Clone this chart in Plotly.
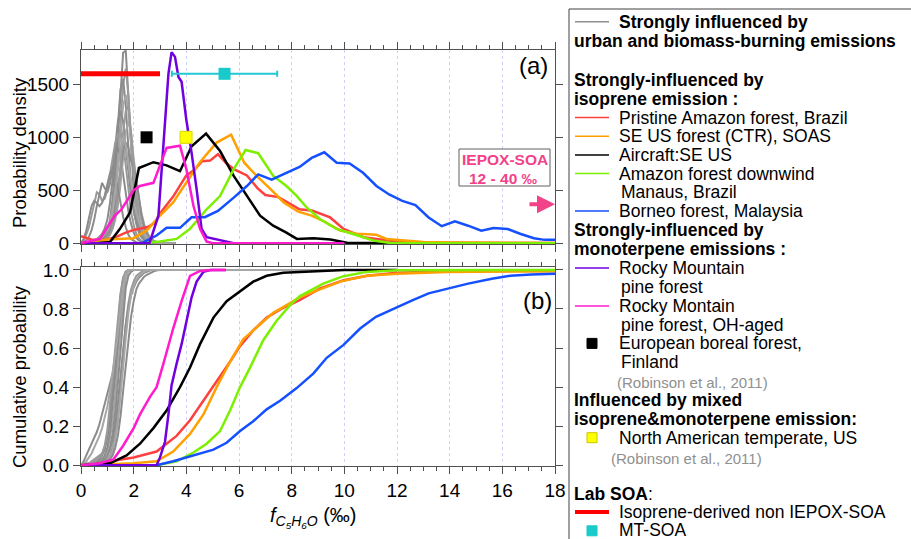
import plotly.graph_objects as go

FONT = "Liberation Sans, Arial, sans-serif"

# ---------------- panel (a): probability density ----------------
# urban / biomass-burning influenced sites, sampled every 0.1 permil
urban_x = [0.0, 0.1, 0.2, 0.3, 0.4, 0.5, 0.6, 0.7, 0.8, 0.9, 1.0, 1.1, 1.2, 1.3, 1.4, 1.5, 1.6, 1.7, 1.8,
           1.9, 2.0, 2.1, 2.2, 2.3, 2.4, 2.5, 2.6, 2.7, 2.8, 2.9, 3.0, 3.1, 3.2, 3.3, 3.4, 3.5, 3.6]
urban_pdf = [
    [0, 0, 0, 5, 10, 15, 20, 30, 40, 60, 100, 180, 320, 600, 1000, 1450, 1800, 1820, 1350, 850, 500, 280, 150, 80, 40, 20, 10, 5, 0, 0, 0, 0, 0, 0, 0, 0, 0],
    [0, 0, 0, 0, 5, 10, 15, 20, 30, 45, 70, 120, 220, 420, 750, 1150, 1500, 1650, 1400, 950, 600, 350, 200, 110, 60, 30, 15, 5, 0, 0, 0, 0, 0, 0, 0, 0, 0],
    [0, 0, 5, 10, 15, 20, 25, 30, 45, 70, 120, 220, 420, 750, 1150, 1450, 1550, 1300, 900, 550, 320, 180, 100, 55, 30, 15, 5, 0, 0, 0, 0, 0, 0, 0, 0, 0, 0],
    [0, 0, 0, 5, 10, 15, 20, 30, 40, 60, 90, 150, 260, 450, 750, 1050, 1300, 1400, 1250, 950, 700, 480, 320, 200, 120, 70, 40, 20, 10, 5, 0, 0, 0, 0, 0, 0, 0],
    [0, 0, 5, 10, 20, 30, 40, 60, 90, 140, 220, 380, 600, 900, 1150, 1250, 1150, 900, 650, 450, 300, 200, 130, 80, 50, 30, 15, 5, 0, 0, 0, 0, 0, 0, 0, 0, 0],
    [0, 30, 80, 150, 260, 380, 480, 460, 400, 420, 500, 650, 800, 950, 1030, 1050, 950, 750, 500, 300, 170, 90, 45, 20, 10, 5, 0, 0, 0, 0, 0, 0, 0, 0, 0, 0, 0],
    [0, 10, 30, 60, 120, 220, 350, 470, 570, 520, 480, 560, 720, 850, 900, 820, 650, 450, 300, 180, 100, 50, 25, 10, 5, 0, 0, 0, 0, 0, 0, 0, 0, 0, 0, 0, 0],
    [0, 0, 0, 0, 5, 10, 15, 20, 30, 40, 60, 90, 140, 220, 350, 550, 800, 1050, 1150, 1050, 800, 600, 420, 280, 180, 110, 60, 30, 15, 8, 3, 0, 0, 0, 0, 0, 0],
    [0, 0, 0, 5, 10, 15, 20, 30, 40, 55, 80, 120, 200, 330, 500, 700, 880, 950, 900, 780, 720, 600, 420, 260, 150, 90, 50, 30, 15, 8, 4, 2, 0, 0, 0, 0, 0],
    [0, 0, 0, 0, 0, 5, 10, 15, 20, 30, 50, 80, 140, 250, 450, 750, 1050, 1250, 1300, 1050, 700, 420, 230, 120, 60, 30, 15, 5, 0, 0, 0, 0, 0, 0, 0, 0, 0],
    [0, 40, 120, 250, 350, 400, 380, 350, 380, 450, 560, 660, 700, 640, 520, 380, 250, 150, 80, 40, 20, 8, 0, 0, 0, 0, 0, 0, 0, 0, 0, 0, 0, 0, 0, 0, 0],
    [0, 0, 0, 5, 10, 20, 30, 40, 60, 90, 130, 200, 320, 500, 720, 900, 1000, 920, 750, 560, 400, 290, 200, 140, 90, 55, 30, 15, 8, 3, 0, 0, 0, 0, 0, 0, 0],
]
urban_colors = ["#8c8c8c", "#9a9a9a", "#8c8c8c", "#a6a6a6", "#8c8c8c", "#9a9a9a",
                "#8c8c8c", "#a6a6a6", "#8c8c8c", "#9a9a9a", "#8c8c8c", "#a6a6a6"]

amazon_x = [0, 0.4, 0.9, 1.3, 1.7, 2.0, 2.5, 2.8, 3.0, 3.5, 4.0, 4.3, 4.6, 4.9, 5.2, 5.5, 5.8, 6.3, 6.7, 7.0,
            7.5, 8.0, 8.3, 8.8, 9.46, 9.97, 10.73, 11.36, 12, 13, 14, 16, 18]
amazon_pdf = [65, 35, 30, 55, 100, 125, 150, 190, 280, 440, 640, 690, 775, 780, 840, 760, 700, 640, 520, 455,
              435, 360, 320, 306, 243, 134, 56, 34, 15, 6, 3, 2, 1]

soas_x = [0, 0.5, 1.0, 1.5, 2.0, 2.5, 3.0, 3.5, 4.0, 4.5, 5.15, 5.7, 6.2, 6.67, 7.2, 7.7, 8.25, 8.76, 9.27,
          9.84, 10.47, 11.2, 11.6, 12.3, 13, 14, 15, 16, 18]
soas_pdf = [0, 10, 35, 40, 47, 120, 260, 385, 570, 760, 950, 1025, 760, 635, 510, 385, 297, 260, 200,
            120, 90, 80, 40, 25, 10, 6, 5, 3, 2]

aircraft_x = [0, 0.6, 1.1, 1.48, 1.86, 2.2, 2.75, 3.25, 3.76, 4.2, 4.75, 5.28, 5.8, 6.3, 6.8, 7.3, 7.8, 8.2,
              8.83, 9.47, 10.1, 12]
aircraft_pdf = [0, 0, 10, 135, 290, 710, 765, 735, 680, 915, 1035, 870, 635, 445, 260, 165, 100, 40,
                47, 34, 3, 0]

manaus_x = [0, 2.3, 3.0, 3.63, 4.14, 4.77, 5.28, 5.8, 6.25, 6.73, 7.3, 7.8, 8.19, 8.57, 9.07, 9.7, 10.33,
            11.1, 11.7, 12.5, 18]
manaus_pdf = [0, 0, 15, 40, 135, 320, 445, 700, 880, 850, 635, 540, 446, 337, 228, 134, 87, 25, 3, 0, 0]

borneo_x = [0, 2.3, 2.87, 3.25, 3.76, 4.2, 4.7, 5.2, 5.8, 6.3, 6.73, 7.24, 7.8, 8.3, 8.76, 9.24, 9.71, 10.2,
            10.71, 11.22, 11.7, 12.2, 12.7, 13.2, 13.7, 14.2, 14.7, 15.2, 15.67, 16.2, 16.7, 17.2, 17.6, 18]
borneo_pdf = [0, 0, 72, 145, 145, 245, 245, 305, 430, 540, 650, 600, 665, 720, 805, 859, 759, 753,
              665, 540, 460, 400, 360, 243, 160, 206, 165, 118, 143, 134, 87, 47, 31, 31]

rocky_x = [0, 2.6, 2.94, 3.19, 3.32, 3.44, 3.57, 3.7, 3.82, 4.0, 4.2, 4.39, 4.58, 4.77, 5.28, 5.53, 5.8, 6.5]
rocky_pdf = [0, 0, 260, 1135, 1600, 1805, 1760, 1570, 1525, 1165, 853, 510, 135, 56, 25, 10, 0, 0]

rocky_oh_x = [0, 0.72, 1.1, 1.29, 1.54, 2.0, 2.24, 2.75, 3.25, 3.76, 4.0, 4.27, 4.52, 4.77, 5.0, 10.0]
rocky_oh_pdf = [0, 40, 190, 260, 320, 500, 540, 570, 900, 920, 700, 353, 135, 15, 0, 0]

# single-value reference points (Robinson et al., 2011) and lab SOA
boreal_point = (2.49, 1000)
temperate_point = (3.99, 1000)
lab_iso_range = [0.0, 3.0]
lab_iso_level = 1600
mt_soa_center = 5.45
mt_soa_spread = 2.0
mt_soa_level = 1600
iepox_arrow_level = 368

# ---------------- panel (b): cumulative probability ----------------
urban_cdf_x = [0.0, 0.1, 0.2, 0.3, 0.4, 0.5, 0.6, 0.7, 0.8, 0.9, 1.0, 1.1, 1.2, 1.3, 1.4, 1.5, 1.6, 1.7,
               1.8, 1.9, 2.0, 2.1, 2.2, 2.3, 2.4, 2.5, 2.6, 2.7, 2.8, 2.9, 3.0, 12.0]
urban_cdf = [
    [0, 0.02, 0.05, 0.08, 0.11, 0.14, 0.17, 0.21, 0.26, 0.31, 0.37, 0.42, 0.47, 0.53, 0.6, 0.7, 0.85, 0.97, 1, 1, 1, 1, 1, 1, 1, 1, 1, 1, 1, 1, 1, 1],
    [0, 0, 0.01, 0.01, 0.02, 0.03, 0.04, 0.05, 0.06, 0.09, 0.15, 0.24, 0.36, 0.5, 0.65, 0.82, 0.95, 0.99, 1, 1, 1, 1, 1, 1, 1, 1, 1, 1, 1, 1, 1, 1],
    [0, 0, 0, 0, 0.01, 0.01, 0.02, 0.03, 0.05, 0.08, 0.14, 0.24, 0.38, 0.55, 0.72, 0.87, 0.96, 0.99, 1, 1, 1, 1, 1, 1, 1, 1, 1, 1, 1, 1, 1, 1],
    [0, 0, 0, 0, 0, 0.01, 0.01, 0.02, 0.03, 0.05, 0.08, 0.14, 0.23, 0.36, 0.52, 0.7, 0.86, 0.96, 0.99, 1, 1, 1, 1, 1, 1, 1, 1, 1, 1, 1, 1, 1],
    [0, 0, 0, 0, 0, 0, 0.01, 0.01, 0.02, 0.03, 0.05, 0.09, 0.16, 0.27, 0.42, 0.6, 0.78, 0.91, 0.97, 0.99, 1, 1, 1, 1, 1, 1, 1, 1, 1, 1, 1, 1],
    [0, 0, 0, 0, 0, 0, 0, 0.01, 0.01, 0.02, 0.03, 0.05, 0.09, 0.16, 0.27, 0.42, 0.58, 0.72, 0.83, 0.9, 0.94, 0.97, 0.98, 0.99, 1, 1, 1, 1, 1, 1, 1, 1],
    [0, 0, 0, 0, 0, 0, 0.01, 0.01, 0.02, 0.03, 0.05, 0.08, 0.13, 0.21, 0.32, 0.46, 0.6, 0.72, 0.81, 0.87, 0.91, 0.94, 0.96, 0.975, 0.985, 0.99, 0.995, 1, 1, 1, 1, 1],
    [0, 0, 0, 0, 0, 0, 0, 0, 0.01, 0.01, 0.02, 0.04, 0.07, 0.13, 0.22, 0.35, 0.5, 0.65, 0.78, 0.87, 0.92, 0.95, 0.97, 0.98, 0.99, 0.995, 1, 1, 1, 1, 1, 1],
    [0, 0, 0, 0, 0, 0.01, 0.01, 0.02, 0.03, 0.05, 0.09, 0.17, 0.3, 0.46, 0.63, 0.8, 0.93, 0.99, 1, 1, 1, 1, 1, 1, 1, 1, 1, 1, 1, 1, 1, 1],
    [0, 0, 0, 0.01, 0.01, 0.02, 0.03, 0.04, 0.06, 0.1, 0.18, 0.3, 0.45, 0.6, 0.75, 0.88, 0.96, 0.99, 1, 1, 1, 1, 1, 1, 1, 1, 1, 1, 1, 1, 1, 1],
    [0, 0, 0, 0, 0, 0, 0, 0, 0, 0.01, 0.02, 0.03, 0.05, 0.09, 0.15, 0.25, 0.38, 0.52, 0.65, 0.76, 0.84, 0.9, 0.93, 0.95, 0.965, 0.975, 0.983, 0.99, 0.995, 0.998, 1, 1],
    [0, 0.01, 0.02, 0.04, 0.06, 0.09, 0.12, 0.15, 0.19, 0.24, 0.3, 0.38, 0.47, 0.57, 0.68, 0.8, 0.91, 0.98, 1, 1, 1, 1, 1, 1, 1, 1, 1, 1, 1, 1, 1, 1],
]

amazon_cdf_x = [0, 0.5, 1.1, 2.0, 2.87, 3.63, 4.14, 4.65, 5.15, 5.66, 6.04, 6.54, 7.05, 7.6, 8.3, 9.08, 9.97,
                10.86, 12, 13.9, 18]
amazon_cdf = [0, 0.005, 0.02, 0.04, 0.07, 0.15, 0.23, 0.33, 0.43, 0.53, 0.61, 0.69, 0.756, 0.8, 0.845, 0.905,
              0.947, 0.97, 0.986, 0.993, 0.995]

soas_cdf_x = [0, 2.0, 2.87, 3.5, 4.14, 4.65, 5.15, 5.66, 6.16, 6.67, 7.3, 7.94, 8.3, 8.83, 9.84, 10.86, 12,
              13.9, 18]
soas_cdf = [0, 0.01, 0.02, 0.07, 0.16, 0.26, 0.40, 0.53, 0.645, 0.705, 0.78, 0.83, 0.86, 0.888, 0.94, 0.97,
            0.98, 0.99, 0.993]

aircraft_cdf_x = [0, 1.1, 1.73, 2.24, 2.75, 3.25, 3.76, 4.14, 4.52, 5.03, 5.53, 6.04, 6.54, 7.05, 7.68, 8.3,
                  9.0, 10.0, 12.0]
aircraft_cdf = [0, 0.01, 0.05, 0.11, 0.19, 0.28, 0.40, 0.50, 0.62, 0.756, 0.84, 0.89, 0.94, 0.97, 0.986,
                0.99, 0.995, 1.0, 1.0]

manaus_cdf_x = [0, 2.87, 3.63, 4.27, 4.77, 5.28, 5.66, 6.04, 6.42, 6.92, 7.43, 7.94, 8.3, 8.57, 9.2, 9.97,
                10.86, 12, 18]
manaus_cdf = [0, 0, 0.02, 0.065, 0.11, 0.175, 0.28, 0.40, 0.5, 0.64, 0.74, 0.82, 0.865, 0.885, 0.93, 0.968,
              0.99, 0.998, 1.0]

borneo_cdf_x = [0, 2.87, 3.5, 4.27, 5.03, 5.53, 6.04, 6.54, 7.05, 7.56, 8.19, 8.83, 9.33, 9.97, 10.6, 11.2,
                12, 12.6, 13.2, 13.9, 14.7, 15.6, 16.3, 17.1, 18]
borneo_cdf = [0, 0, 0.02, 0.05, 0.08, 0.115, 0.175, 0.225, 0.286, 0.33, 0.395, 0.47, 0.55, 0.616, 0.70,
              0.76, 0.81, 0.845, 0.88, 0.905, 0.93, 0.955, 0.97, 0.976, 0.98]

rocky_cdf_x = [0, 2.87, 3.0, 3.19, 3.32, 3.44, 3.63, 3.82, 4.01, 4.2, 4.39, 4.65, 4.9, 5.5]
rocky_cdf = [0, 0, 0.04, 0.12, 0.26, 0.41, 0.52, 0.62, 0.74, 0.86, 0.94, 0.99, 1.0, 1.0]

rocky_oh_cdf_x = [0, 0.72, 1.23, 1.6, 2.0, 2.24, 2.62, 2.87, 3.13, 3.5, 3.82, 4.14, 4.52, 5.0, 5.5]
rocky_oh_cdf = [0, 0.01, 0.03, 0.1, 0.19, 0.26, 0.35, 0.40, 0.52, 0.70, 0.84, 0.97, 0.995, 1.0, 1.0]

# ---------------- colours ----------------
C_AMAZON = "#ff4040"
C_SOAS = "#ffa000"
C_AIR = "#000000"
C_MANAUS = "#7cf000"
C_BORNEO = "#1450ff"
C_ROCKY = "#7000e0"
C_ROCKY_OH = "#ff1ccc"
C_LAB_ISO = "#ff0000"
C_MT = "#18caca"
C_IEPOX = "#f2428a"
C_AXIS = "#505050"

series = [
    (amazon_x, amazon_pdf, amazon_cdf_x, amazon_cdf, C_AMAZON),
    (soas_x, soas_pdf, soas_cdf_x, soas_cdf, C_SOAS),
    (aircraft_x, aircraft_pdf, aircraft_cdf_x, aircraft_cdf, C_AIR),
    (manaus_x, manaus_pdf, manaus_cdf_x, manaus_cdf, C_MANAUS),
    (borneo_x, borneo_pdf, borneo_cdf_x, borneo_cdf, C_BORNEO),
    (rocky_x, rocky_pdf, rocky_cdf_x, rocky_cdf, C_ROCKY),
    (rocky_oh_x, rocky_oh_pdf, rocky_oh_cdf_x, rocky_oh_cdf, C_ROCKY_OH),
]

fig = go.Figure()

# grey urban curves first so the forest sites sit on top
for ys, col in zip(urban_pdf, urban_colors):
    fig.add_trace(go.Scatter(x=urban_x, y=ys, mode="lines", line=dict(color=col, width=2),
                             xaxis="x2", yaxis="y2", hoverinfo="skip"))
for ys, col in zip(urban_cdf, urban_colors):
    fig.add_trace(go.Scatter(x=urban_cdf_x, y=ys, mode="lines", line=dict(color=col, width=2),
                             xaxis="x", yaxis="y", hoverinfo="skip"))

for px_, py_, cx_, cy_, col in series:
    fig.add_trace(go.Scatter(x=px_, y=py_, mode="lines", line=dict(color=col, width=2.5),
                             xaxis="x2", yaxis="y2"))
    fig.add_trace(go.Scatter(x=cx_, y=cy_, mode="lines", line=dict(color=col, width=2.5),
                             xaxis="x", yaxis="y"))

# lab SOA range and MT-SOA point
fig.add_trace(go.Scatter(x=lab_iso_range, y=[lab_iso_level, lab_iso_level], mode="lines",
                         line=dict(color=C_LAB_ISO, width=5), xaxis="x2", yaxis="y2"))
fig.add_trace(go.Scatter(x=[mt_soa_center], y=[mt_soa_level], mode="markers",
                         marker=dict(symbol="square", size=12, color=C_MT),
                         error_x=dict(type="data", array=[mt_soa_spread], arrayminus=[mt_soa_spread],
                                      color="#22c8d4", thickness=2, width=3),
                         xaxis="x2", yaxis="y2"))
# ambient single values
fig.add_trace(go.Scatter(x=[boreal_point[0]], y=[boreal_point[1]], mode="markers",
                         marker=dict(symbol="square", size=12, color="black"), xaxis="x2", yaxis="y2"))
fig.add_trace(go.Scatter(x=[temperate_point[0]], y=[temperate_point[1]], mode="markers",
                         marker=dict(symbol="square", size=12, color="#ffff00",
                                     line=dict(color="#d8d800", width=1)), xaxis="x2", yaxis="y2"))

# ---------------- layout helpers (pixel -> paper) ----------------
W, H = 911, 539
ML, MR, MT, MB = 81, 356, 50, 73
PW, PH = W - ML - MR, H - MT - MB


def fx(px):
    return (px - ML) / PW


def fy(py):
    return (H - MB - py) / PH


axis_common = dict(showline=True, linecolor=C_AXIS, linewidth=1, mirror="allticks", ticks="outside",
                   ticklen=7, tickwidth=1, tickcolor=C_AXIS, zeroline=False,
                   tickfont=dict(family=FONT, size=19, color="black"))
x_common = dict(axis_common, range=[0, 18], tickmode="linear", tick0=0, dtick=2, showgrid=True,
                gridcolor="#cdd0fa", griddash="dot", gridwidth=1,
                minor=dict(tickmode="linear", tick0=0, dtick=0.5, ticks="outside", ticklen=4,
                           tickcolor=C_AXIS, showgrid=False))

fig.update_layout(
    width=W, height=H, margin=dict(l=ML, r=MR, t=MT, b=MB),
    plot_bgcolor="white", paper_bgcolor="white", showlegend=False,
    font=dict(family=FONT, color="black"),
    xaxis=dict(x_common, domain=[0, 1], anchor="y"),
    xaxis2=dict(x_common, domain=[0, 1], anchor="y2", matches="x", showticklabels=False),
    yaxis=dict(axis_common, domain=[0, fy(267)], range=[-0.004, 1.015], tickmode="linear", tick0=0,
               dtick=0.2, tickformat=".1f", showgrid=False),
    yaxis2=dict(axis_common, domain=[fy(244), 1], range=[-8, 1825], tickmode="linear", tick0=0,
                dtick=500, showgrid=False),
)

ann = []
shapes = []


def text(px, py, s, size=18, color="black", xanchor="left", angle=0):
    ann.append(dict(x=fx(px), y=fy(py), xref="paper", yref="paper", text=s, showarrow=False,
                    xanchor=xanchor, yanchor="middle", textangle=angle,
                    font=dict(family=FONT, size=size, color=color)))


# axis titles and panel tags
text(19, 152, "Probability density", size=18.5, xanchor="center", angle=-90)
text(19, 377, "Cumulative probability", size=18.5, xanchor="center", angle=-90)
text(313, 517, "<i>f</i><sub><i>C<sub>5</sub>H<sub>6</sub>O</i></sub> (‰)", size=20, xanchor="center")
text(533, 66, "(a)", size=24, xanchor="center")
text(537, 300, "(b)", size=24, xanchor="center")

# IEPOX-SOA range box with arrow pointing beyond the axis
shapes.append(dict(type="rect", xref="paper", yref="paper", x0=fx(459), x1=fx(550), y0=fy(149), y1=fy(186),
                   line=dict(color="#606060", width=1), fillcolor="white", layer="above"))
text(505, 160, "<b>IEPOX-SOA</b>", size=15.5, color=C_IEPOX, xanchor="center")
text(503, 178, "<b>12 - 40 ‰</b>", size=15.5, color=C_IEPOX, xanchor="center")
ann.append(dict(x=18, y=iepox_arrow_level, xref="x2", yref="y2", text="", showarrow=True,
                ax=-27, ay=0, arrowhead=2, arrowsize=0.9, arrowwidth=4, arrowcolor=C_IEPOX, standoff=0))

# ---------------- legend panel ----------------
shapes.append(dict(type="rect", xref="paper", yref="paper", x0=fx(569), x1=fx(916), y0=fy(9), y1=fy(546),
                   line=dict(color="#404040", width=1), fillcolor="rgba(0,0,0,0)"))

LG = 17.5
RB = 15
legend_rows = [
    (617, 21.7, "<b>Strongly influenced by</b>", LG, "black"),
    (572, 40.7, "<b>urban and biomass-burning emissions</b>", LG, "black"),
    (572, 80, "<b>Strongly-influenced by</b>", LG, "black"),
    (572, 98.8, "<b>isoprene emission :</b>", LG, "black"),
    (617, 117.5, "Pristine Amazon forest, Brazil", LG, "black"),
    (617, 136.2, "SE US forest (CTR), SOAS", LG, "black"),
    (617, 154.9, "Aircraft:SE US", LG, "black"),
    (617, 173.6, "Amazon forest downwind", LG, "black"),
    (619, 192.3, "Manaus, Brazil", LG, "black"),
    (617, 211, "Borneo forest, Malaysia", LG, "black"),
    (572, 230, "<b>Strongly-influenced by</b>", LG, "black"),
    (572, 249, "<b>monoterpene emissions :</b>", LG, "black"),
    (617, 268, "Rocky Mountain", LG, "black"),
    (619, 287, "pine forest", LG, "black"),
    (617, 306, "Rocky Montain", LG, "black"),
    (619, 324.7, "pine forest, OH-aged", LG, "black"),
    (617, 343.4, "European boreal forest,", LG, "black"),
    (619, 362.1, "Finland", LG, "black"),
    (615, 382, "(Robinson et al., 2011)", RB, "#909090"),
    (572, 400.3, "<b>Influenced by mixed</b>", LG, "black"),
    (572, 419, "<b>isoprene&amp;monoterpene emission:</b>", LG, "black"),
    (617, 437.7, "North American temperate, US", LG, "black"),
    (609, 458, "(Robinson et al., 2011)", RB, "#909090"),
    (572, 493.5, "<b>Lab SOA</b>:", LG, "black"),
    (617, 512, "Isoprene-derived non IEPOX-SOA", LG, "black"),
    (617, 530.2, "MT-SOA", LG, "black"),
]
for px, py, s, sz, col in legend_rows:
    text(px, py, s, size=sz, color=col)

legend_lines = [
    (21.7, "#909090", 1.5), (117.5, C_AMAZON, 1.5), (136.2, C_SOAS, 1.5), (154.9, C_AIR, 1.5),
    (173.6, C_MANAUS, 1.5), (211, C_BORNEO, 1.5), (268, C_ROCKY, 1.5), (306, C_ROCKY_OH, 1.5),
    (512, C_LAB_ISO, 4),
]
for py, col, w in legend_lines:
    shapes.append(dict(type="line", xref="paper", yref="paper", x0=fx(575), x1=fx(609), y0=fy(py), y1=fy(py),
                       line=dict(color=col, width=w)))

legend_boxes = [(343.4, "black", "black"), (437.7, "#ffff00", "#c8c800"), (530.8, C_MT, C_MT)]
for py, fill, edge in legend_boxes:
    shapes.append(dict(type="rect", xref="paper", yref="paper", x0=fx(587), x1=fx(597),
                       y0=fy(py + 5), y1=fy(py - 5), fillcolor=fill, line=dict(color=edge, width=1)))

fig.update_layout(annotations=ann, shapes=shapes)
fig.write_html("out.html")
